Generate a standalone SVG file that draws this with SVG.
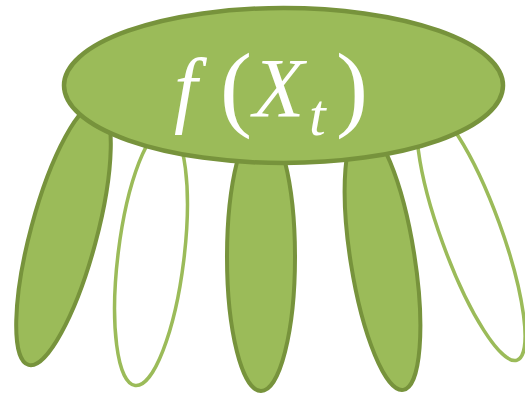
<svg xmlns="http://www.w3.org/2000/svg" width="525" height="396" viewBox="0 0 525 396">
<style>
.dark{fill:#9BBB59;stroke:#77933C;stroke-width:4}
.light{fill:#FFFFFF;stroke:#9BBB59;stroke-width:3.5}
.main{fill:#9BBB59;stroke:#77933C;stroke-width:4.5}
.t{fill:#FFFFFF;font-family:"Liberation Serif","Times New Roman",serif}
.it{font-style:italic}
</style>
<rect width="525" height="396" fill="#FFFFFF"/>
<g id="leg1"><ellipse class="dark" cx="63.5" cy="234.5" rx="33" ry="135" transform="rotate(15 63.5 234.5)"/></g>
<g id="leg2"><ellipse class="light" cx="151" cy="256.5" rx="33" ry="130" transform="rotate(7 151 256.5)"/></g>
<g id="leg3"><ellipse class="dark" cx="261" cy="257" rx="34" ry="134"/></g>
<g id="leg4"><ellipse class="dark" cx="382.5" cy="258.5" rx="32" ry="133" transform="rotate(-9 382.5 258.5)"/></g>
<g id="leg5"><ellipse class="light" cx="471" cy="233.2" rx="30" ry="135" transform="rotate(-20 471 233.2)"/></g>
<g id="head">
<ellipse class="main" cx="283.5" cy="85.5" rx="219.5" ry="77.5"/>
<text class="t" y="117" font-size="84"><tspan class="it" x="174">f</tspan><tspan x="220" y="119" font-size="96">(</tspan><tspan class="it" x="253" y="117">X</tspan><tspan class="it" x="309" y="135" font-size="60">t</tspan><tspan x="336" y="119" font-size="96">)</tspan></text>
</g>
<g id="connectors"/>
</svg>
